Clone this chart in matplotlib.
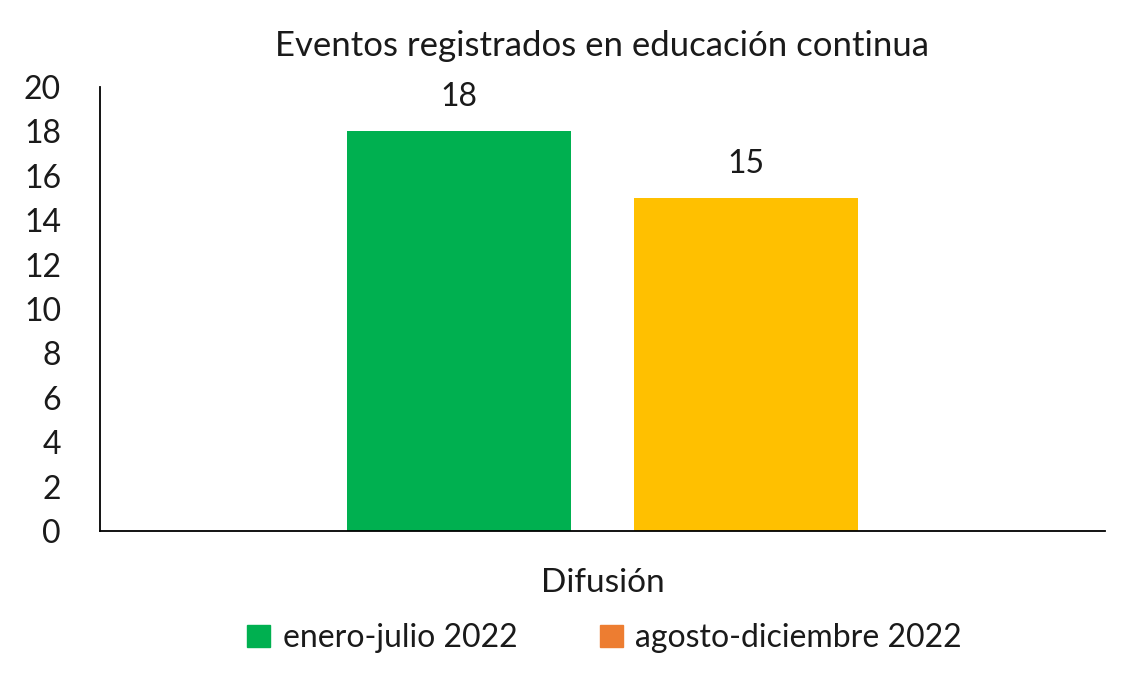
import matplotlib.pyplot as plt
import numpy as np

# Datos del grafico
categorias = ["Difusión"]
series = ["enero-julio 2022", "agosto-diciembre 2022"]
valores = [18, 15]
colores_barras = ["#00B050", "#FFC000"]
colores_leyenda = ["#00B050", "#ED7D31"]
titulo = "Eventos registrados en educación continua"

plt.rcParams['font.family'] = ['Lato', 'DejaVu Sans']

fig = plt.figure(figsize=(11.26, 6.81), dpi=100)
ax = fig.add_axes([0.0888, 0.2203, 0.8925, 0.6519])

x = np.arange(len(categorias))
width = 0.223
offsets = [-0.143, 0.143]
for i in range(len(series)):
    bars = ax.bar(x + offsets[i], [valores[i]], width, color=colores_barras[i])
    ax.bar_label(bars, padding=14, fontsize=23, color="#1a1a1a")

ax.set_xlim(-0.5, 0.5)
ax.set_ylim(0, 20)
ax.set_yticks(np.arange(0, 21, 2))
ax.tick_params(axis='y', length=0, labelsize=23, pad=28, colors="#1a1a1a")
ax.set_xticks(x)
ax.set_xticklabels(categorias)
ax.tick_params(axis='x', length=0, labelsize=24, pad=27, colors="#1a1a1a")

for s in ["top", "right"]:
    ax.spines[s].set_visible(False)
ax.spines["left"].set_linewidth(1.3)
ax.spines["bottom"].set_linewidth(1.3)

ax.set_title(titulo, fontsize=25, color="#1a1a1a", pad=22)

handles = [plt.Rectangle((0, 0), 1, 1, color=c) for c in colores_leyenda]
fig.legend(handles, series, loc="center", bbox_to_anchor=(0.537, 0.063), ncol=2,
           frameon=False, fontsize=23, handlelength=0.7, handleheight=0.7,
           handletextpad=0.4, columnspacing=2.6, labelcolor="#1a1a1a")

fig.savefig("out.png", dpi=100)
